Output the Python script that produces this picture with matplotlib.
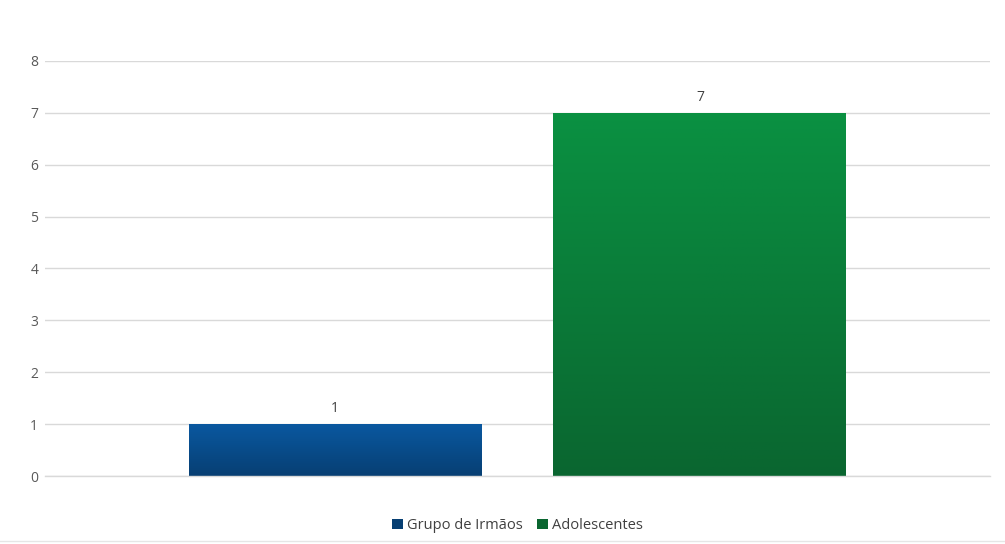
import numpy as np
import matplotlib.pyplot as plt
from matplotlib.colors import LinearSegmentedColormap

series = ['Grupo de Irmãos', 'Adolescentes']
values = [1, 7]
y_ticks = [0, 1, 2, 3, 4, 5, 6, 7, 8]

# cores (topo, base) de cada barra
top_colors = ['#0a58a0', '#0a9142']
bottom_colors = ['#073f73', '#0a6630']

plt.rcParams['font.family'] = ['Open Sans', 'DejaVu Sans']

fig = plt.figure(figsize=(10.05, 5.44), dpi=100)
ax = fig.add_axes([0.045, 0.125, 0.94, 0.763])

width = 0.31
offsets = [-0.193, 0.193]

for i, (name, v) in enumerate(zip(series, values)):
    bar = ax.bar(offsets[i], v, width, color=bottom_colors[i], label=name, zorder=2)[0]
    # degradê vertical dentro da barra
    cmap = LinearSegmentedColormap.from_list('g', [bottom_colors[i], top_colors[i]])
    grad = np.linspace(0, 1, 256).reshape(-1, 1)
    x0 = offsets[i] - width / 2
    im = ax.imshow(grad, cmap=cmap, aspect='auto', origin='lower',
                   extent=[x0, x0 + width, 0, v], zorder=3)
    im.set_clip_path(bar)
    ax.text(offsets[i], v + 0.15, str(v), ha='center', va='bottom',
            fontsize=10, color='#404040')

ax.set_xlim(-0.5, 0.5)
ax.set_ylim(0, 8)
ax.set_yticks(y_ticks)
ax.set_xticks([])
ax.grid(axis='y', color='#d9d9d9', lw=1, zorder=0)
ax.axhline(0, color='#d9d9d9', lw=1, zorder=4, clip_on=False)
ax.tick_params(axis='y', length=0, labelsize=10, labelcolor='#595959', pad=5)
for s in ax.spines.values():
    s.set_visible(False)

ax.legend(loc='upper center', bbox_to_anchor=(0.5, -0.07), ncol=2, frameon=False,
          fontsize=10.5, handlelength=0.7, handleheight=0.7, handletextpad=0.3,
          columnspacing=1.0, labelcolor='#404040')

# linha fina na borda inferior
fig.add_artist(plt.Line2D([0, 1], [0.006, 0.006], color='#e6e6e6', lw=1))

plt.savefig('out.png', dpi=100)
